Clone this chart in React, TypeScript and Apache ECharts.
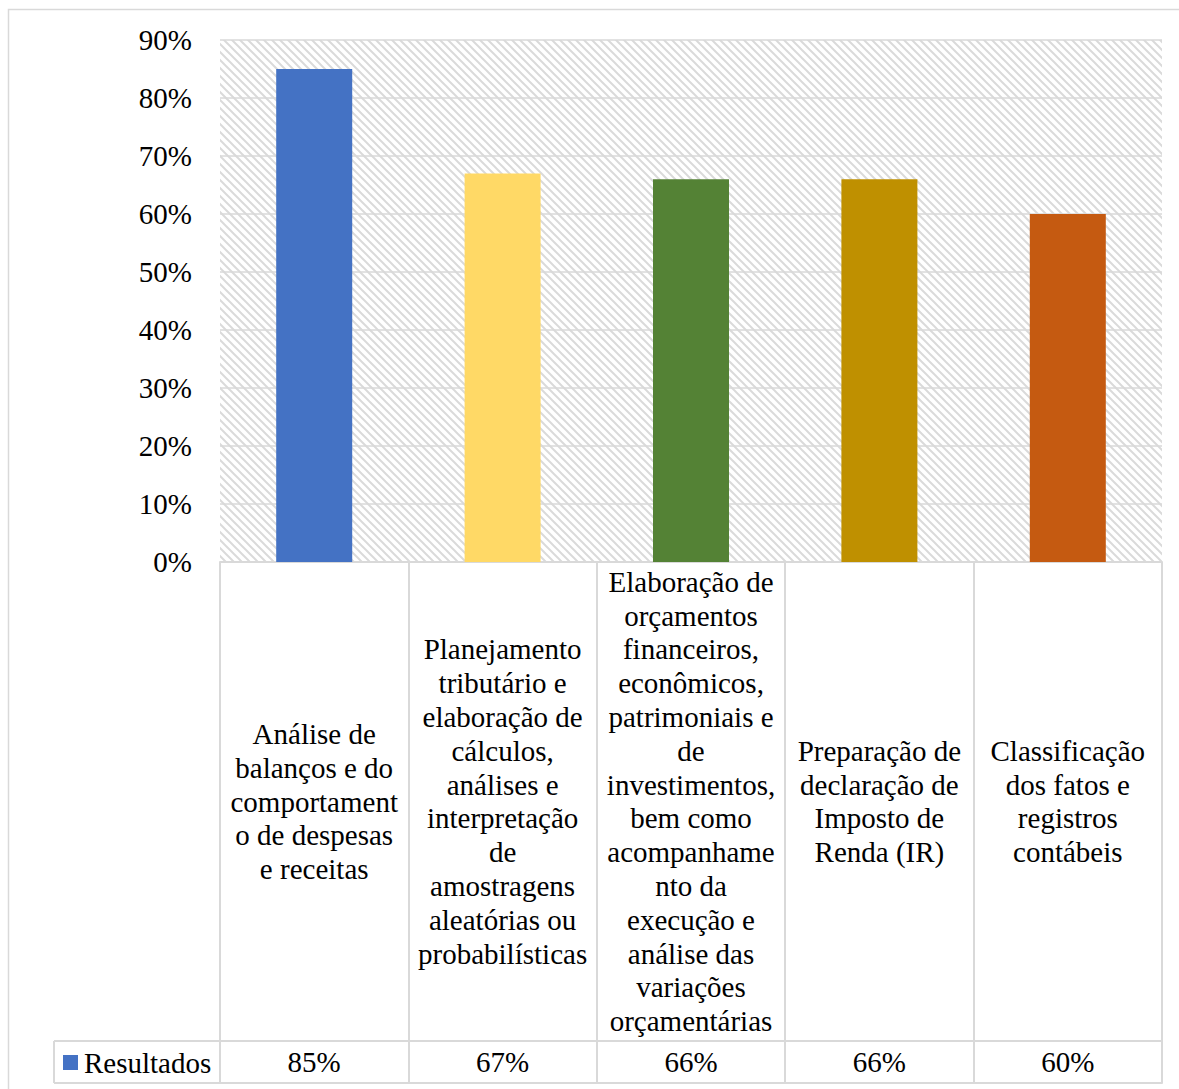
import React, { useEffect, useRef } from "react";
import * as echarts from "echarts";

// Category labels, wrapped the way the data table shows them
const categories: string[] = [
  "Análise de\nbalanços e do\ncomportament\no de despesas\ne receitas",
  "Planejamento\ntributário e\nelaboração de\ncálculos,\nanálises e\ninterpretação\nde\namostragens\naleatórias ou\nprobabilísticas",
  "Elaboração de\norçamentos\nfinanceiros,\neconômicos,\npatrimoniais e\nde\ninvestimentos,\nbem como\nacompanhame\nnto da\nexecução e\nanálise das\nvariações\norçamentárias",
  "Preparação de\ndeclaração de\nImposto de\nRenda (IR)",
  "Classificação\ndos fatos e\nregistros\ncontábeis",
];

// Percentages per category
const values: number[] = [85, 67, 66, 66, 60];
const barColors: string[] = ["#4472C4", "#FFD966", "#548235", "#BF9000", "#C55A11"];
const seriesName = "Resultados";

const FONT = "'Liberation Serif', 'Times New Roman', serif";
const LINE = "#d9d9d9";

// Diagonal hatch tile for the plot background
const hatchSvg =
  "<svg xmlns='http://www.w3.org/2000/svg' width='8' height='8'>" +
  "<path d='M-2,-2 L10,10 M-2,6 L2,10 M6,-2 L10,2' stroke='#dadada' stroke-width='2'/></svg>";
const hatchUrl = "data:image/svg+xml;charset=utf-8," + encodeURIComponent(hatchSvg);

export default function App() {
  const ref = useRef<HTMLDivElement>(null);

  useEffect(() => {
    if (!ref.current) return;
    const chart = echarts.init(ref.current, undefined, { renderer: "svg" });

    const gridLeft = 220;
    const gridRight = 17;
    const gridTop = 40;
    const gridBottom = 527;
    const plotBottom = 1089 - gridBottom; // 562
    const catRowBottom = 1041;
    const tableBottom = 1083;

    chart.setOption({
      animation: false,
      backgroundColor: "#ffffff",
      textStyle: { fontFamily: FONT },
      grid: {
        show: true,
        left: gridLeft,
        right: gridRight,
        top: gridTop,
        bottom: gridBottom,
        borderWidth: 0,
        backgroundColor: {
          image: hatchUrl,
          repeat: "repeat",
          imageWidth: 8,
          imageHeight: 8,
        } as any,
      },
      legend: {
        data: [seriesName],
        left: 63,
        top: 1048,
        padding: 0,
        icon: "rect",
        itemWidth: 15,
        itemHeight: 15,
        itemGap: 5,
        textStyle: { fontSize: 29, color: "#000", fontFamily: FONT, padding: [0, 0, 0, 1] },
      },
      yAxis: {
        type: "value",
        min: 0,
        max: 90,
        interval: 10,
        axisLine: { show: false },
        axisTick: { show: false },
        axisLabel: {
          formatter: (v: number) => `${v}%`,
          fontSize: 29,
          color: "#000",
          fontFamily: FONT,
          margin: 28,
        },
        splitLine: { lineStyle: { color: LINE, width: 1.5 } },
      },
      xAxis: [
        {
          type: "category",
          data: categories,
          position: "bottom",
          axisLine: { show: true, lineStyle: { color: LINE, width: 2 } },
          axisTick: {
            show: true,
            alignWithLabel: false,
            interval: 0,
            length: tableBottom - plotBottom,
            lineStyle: { color: LINE, width: 2 },
          },
          axisLabel: {
            interval: 0,
            margin: (catRowBottom - plotBottom) / 2,
            verticalAlign: "middle",
            align: "center",
            lineHeight: 33.8,
            fontSize: 29,
            color: "#000",
            fontFamily: FONT,
          },
        },
        {
          type: "category",
          data: categories,
          position: "bottom",
          offset: catRowBottom - plotBottom,
          axisLine: { show: true, lineStyle: { color: LINE, width: 2 } },
          axisTick: { show: false },
          axisLabel: {
            interval: 0,
            margin: (tableBottom - catRowBottom) / 2,
            verticalAlign: "middle",
            align: "center",
            fontSize: 29,
            color: "#000",
            fontFamily: FONT,
            formatter: (_: string, i: number) => `${values[i]}%`,
          },
        },
        {
          type: "category",
          data: categories,
          position: "bottom",
          offset: tableBottom - plotBottom,
          axisLine: { show: true, lineStyle: { color: LINE, width: 2 } },
          axisTick: { show: false },
          axisLabel: { show: false },
        },
      ],
      series: [
        {
          name: seriesName,
          type: "bar",
          xAxisIndex: 0,
          barWidth: 76,
          itemStyle: { color: barColors[0] },
          data: values.map((v, i) => ({ value: v, itemStyle: { color: barColors[i] } })),
        },
      ],
      graphic: [
        // outer chart border
        {
          type: "rect",
          shape: { x: 8.5, y: 9.5, width: 1400, height: 1400 },
          style: { fill: "none", stroke: LINE, lineWidth: 1.5 },
          silent: true,
        },
        // legend cell of the data table
        {
          type: "line",
          shape: { x1: 54, y1: catRowBottom, x2: gridLeft, y2: catRowBottom },
          style: { stroke: LINE, lineWidth: 2 },
          silent: true,
        },
        {
          type: "line",
          shape: { x1: 54, y1: tableBottom, x2: gridLeft, y2: tableBottom },
          style: { stroke: LINE, lineWidth: 2 },
          silent: true,
        },
        {
          type: "line",
          shape: { x1: 54, y1: catRowBottom, x2: 54, y2: tableBottom },
          style: { stroke: LINE, lineWidth: 2 },
          silent: true,
        },
      ],
    });

    return () => chart.dispose();
  }, []);

  return (
    <div
      ref={ref}
      style={{ position: "fixed", left: 0, top: 0, width: 1179, height: 1089, background: "#fff" }}
    />
  );
}
